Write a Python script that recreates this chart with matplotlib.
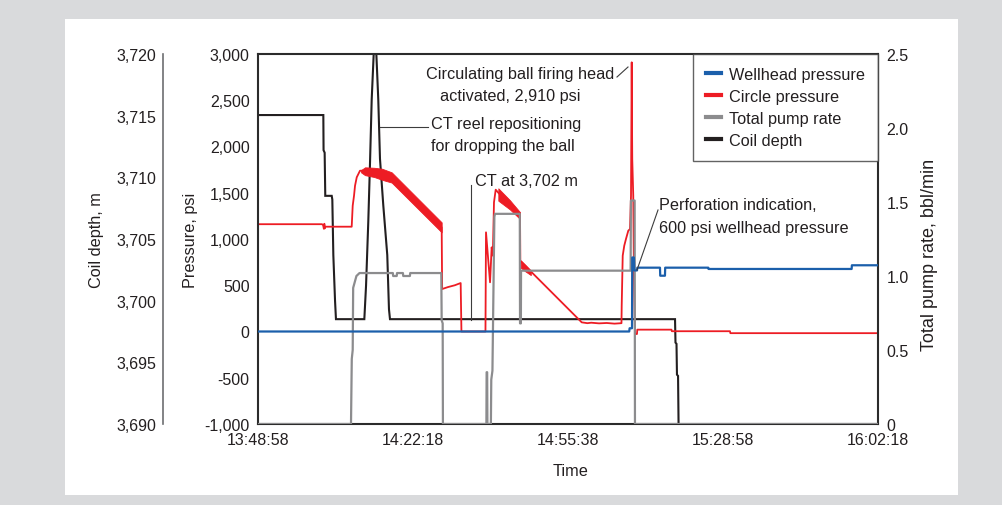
import matplotlib
matplotlib.use('Agg')
import matplotlib.pyplot as plt
from matplotlib.lines import Line2D
from matplotlib.patches import Rectangle

# ---------------- data (elapsed seconds since 13:48:58) ----------------
time_ticks = [0, 2000, 4000, 6000, 8000]
time_labels = ['13:48:58', '14:22:18', '14:55:38', '15:28:58', '16:02:18']

p_ticks = [-1000, -500, 0, 500, 1000, 1500, 2000, 2500, 3000]
p_labels = ['-1,000', '-500', '0', '500', '1,000', '1,500', '2,000', '2,500', '3,000']
d_ticks = [3690, 3695, 3700, 3705, 3710, 3715, 3720]
d_labels = ['3,690', '3,695', '3,700', '3,705', '3,710', '3,715', '3,720']
r_ticks = [0, 0.5, 1.0, 1.5, 2.0, 2.5]
r_labels = ['0', '0.5', '1.0', '1.5', '2.0', '2.5']

# Coil depth, m
depth_t = [0, 843, 846, 860, 868, 951, 959, 972, 994, 1006, 1372, 1394, 1423, 1445,
           1467, 1497, 1523, 1552, 1574, 1617, 1668, 1690, 1703, 5381, 5387, 5400,
           5406, 5420, 5430]
depth_m = [3715.05, 3715.05, 3712.2, 3712.0, 3708.5, 3708.5, 3708.2, 3703.7, 3700.0,
           3698.5, 3698.5, 3701.2, 3706.4, 3711.1, 3716.3, 3720.6, 3720.6, 3716.3,
           3711.5, 3707.7, 3703.7, 3699.3, 3698.5, 3698.5, 3696.6, 3696.5, 3694.0,
           3693.9, 3688.0]

# Circle pressure, psi
circ_t = [0, 826, 840, 850, 856, 862, 870, 1209, 1222, 1239, 1252, 1274, 1316, 1381,
          1500, 1600, 1725, 2370, 2376, 2450, 2540, 2615, 2625, 2935, 2942, 2994,
          3015, 3030, 3045, 3067, 3101, 3381, 3385, 3403, 4177, 4250, 4300, 4400,
          4500, 4600, 4690, 4693, 4706, 4726, 4748, 4778, 4800, 4813, 4818, 4822,
          4826, 4829, 4842, 4850, 4864, 4870, 4890, 4894, 5335, 5340, 6090, 6095, 8000]
circ_p = [1160, 1160, 1150, 1110, 1165, 1115, 1133, 1133, 1360, 1468, 1576, 1667, 1738,
          1740, 1720, 1700, 1665, 1126, 459, 480, 500, 524, 0, 0, 1072, 532,
          910, 820, 1397, 1533, 1500, 1250, 760, 748, 99, 90, 95, 88,
          92, 85, 90, 279, 820, 928, 1000, 1090, 1108, 1468, 2262, 2910,
          2262, 1865, 1468, 700, -9, -27, -27, 20, 20, 3, 3, -18, -18]
# thick (oscillating) parts of the circle-pressure trace
band1_t = [1330, 1381, 1500, 1600, 1725, 2370]
band1_hi = [1745, 1775, 1770, 1760, 1721, 1180]
band1_lo = [1720, 1690, 1670, 1640, 1610, 1072]
band2_t = [3101, 3250, 3381]
band2_hi = [1548, 1420, 1290]
band2_lo = [1414, 1320, 1216]
band3_t = [3390, 3450, 3520]
band3_hi = [770, 720, 660]
band3_lo = [690, 650, 610]

# Wellhead pressure, psi
well_t = [0, 4790, 4795, 4826, 4829, 4850, 4856, 4890, 4895, 5187, 5190, 5251, 5254,
          5810, 5813, 7660, 7663, 8000]
well_p = [0, 0, 35, 35, 800, 800, 660, 660, 690, 690, 603, 603, 690,
          690, 676, 676, 716, 716]

# Total pump rate, bbl/min
pump_t = [0, 1200, 1210, 1222, 1228, 1270, 1310, 1740, 1744, 1790, 1794, 1870, 1874,
          1960, 1964, 2365, 2370, 2383, 2386, 2947, 2950, 2957, 2960, 3005, 3010,
          3025, 3050, 3058, 3378, 3381, 3392, 3394, 4808, 4812, 4860, 4864, 8000]
pump_r = [0, 0, 0.44, 0.50, 0.92, 1.0, 1.02, 1.02, 1.0, 1.0, 1.02, 1.02, 1.0,
          1.0, 1.02, 1.02, 0.70, 0.68, 0, 0, 0.35, 0.35, 0, 0, 0.30,
          0.36, 1.40, 1.42, 1.42, 0.68, 0.68, 1.036, 1.036, 1.51, 1.51, 0, 0]

legend_labels = ['Wellhead pressure', 'Circle pressure', 'Total pump rate', 'Coil depth']

# ---------------- style ----------------
BLUE = '#1b5fab'
RED = '#ed1c24'
GRAY = '#8c8c8e'
BLACK = '#231f20'
TXT = '#231f20'
FS = 11.7
TFS = 11.5
plt.rcParams['font.family'] = ['Liberation Sans', 'DejaVu Sans']

W, H = 1002, 506
fig = plt.figure(figsize=(W / 100, H / 100), dpi=100)
fig.patch.set_facecolor('#d9dadc')
fig.add_artist(Rectangle((65 / W, 1 - 496 / H), (958 - 65) / W, (496 - 20) / H,
                         transform=fig.transFigure, facecolor='white',
                         edgecolor='none', zorder=0))

pos = [258 / W, 1 - 425 / H, 620 / W, 370 / H]
ax_p = fig.add_axes(pos)
ax_d = fig.add_axes(pos, sharex=ax_p)
ax_r = fig.add_axes(pos, sharex=ax_p)
ax_b = fig.add_axes(pos, sharex=ax_p, sharey=ax_p)
for z, a in zip([2, 1, 3, 4], [ax_p, ax_d, ax_r, ax_b]):
    a.set_zorder(z)
    a.patch.set_visible(False)

ax_p.set_xlim(0, 8000)
ax_p.set_ylim(-1000, 3000)
ax_d.set_ylim(3690, 3720)
ax_r.set_ylim(0, 2.5)

# coil depth (bottom layer)
ax_d.plot(depth_t, depth_m, color=BLACK, lw=1.5, solid_joinstyle='miter')
# circle pressure
ax_p.plot(circ_t, circ_p, color=RED, lw=1.3)
for bt, bh, bl in [(band1_t, band1_hi, band1_lo), (band2_t, band2_hi, band2_lo),
                   (band3_t, band3_hi, band3_lo)]:
    ax_p.fill_between(bt, bl, bh, color=RED, lw=0.6, edgecolor=RED)
# pump rate
ax_r.plot(pump_t, pump_r, color=GRAY, lw=1.6)
# wellhead pressure (top)
ax_b.plot(well_t, well_p, color=BLUE, lw=1.6)

# frame / pressure axis
for s in ax_p.spines.values():
    s.set_color('#2b2b2b')
    s.set_linewidth(1.5)
ax_p.set_yticks(p_ticks)
ax_p.set_yticklabels(p_labels)
ax_p.set_xticks(time_ticks)
ax_p.set_xticklabels(time_labels)
ax_p.tick_params(axis='y', length=0, pad=6, labelsize=TFS, labelcolor=TXT)
ax_p.tick_params(axis='x', length=0, pad=6, labelsize=TFS, labelcolor=TXT)

# coil depth axis (outer left)
for k, s in ax_d.spines.items():
    s.set_visible(k == 'left')
ax_d.spines['left'].set_position(('axes', (163 - 258) / 620))
ax_d.spines['left'].set_color('#6d6e71')
ax_d.spines['left'].set_linewidth(1.2)
ax_d.set_yticks(d_ticks)
ax_d.set_yticklabels(d_labels)
ax_d.set_yticks([3690, 3720], minor=True)
ax_d.tick_params(axis='y', which='major', length=0, pad=5, labelsize=TFS, labelcolor=TXT)
ax_d.tick_params(axis='y', which='minor', length=5, width=1.2, direction='in', color='#6d6e71')
ax_d.tick_params(axis='x', bottom=False, labelbottom=False)

# pump rate axis (right)
for s in ax_r.spines.values():
    s.set_visible(False)
ax_r.yaxis.tick_right()
ax_r.set_yticks(r_ticks)
ax_r.set_yticklabels(r_labels)
ax_r.tick_params(axis='y', length=0, pad=6, labelsize=TFS, labelcolor=TXT)
ax_r.tick_params(axis='x', bottom=False, labelbottom=False)

ax_b.axis('off')

# legend
handles = [Line2D([], [], color=c, lw=3) for c in [BLUE, RED, GRAY, BLACK]]
leg = ax_b.legend(handles, legend_labels, loc='upper right', bbox_to_anchor=(1, 1),
                  borderaxespad=0, frameon=True, fancybox=False, edgecolor='#3c3c3c',
                  fontsize=FS, handlelength=0.95, handletextpad=0.5,
                  labelspacing=0.44, borderpad=0.78, labelcolor=TXT)
leg.get_frame().set_linewidth(1.0)
leg.set_zorder(10)


def ftxt(x, y, s, ha='left', rot=0, size=FS):
    fig.text(x / W, 1 - y / H, s, ha=ha, va='center', fontsize=size, color=TXT,
             rotation=rot, zorder=20)


def lead(x1, y1, x2, y2):
    fig.add_artist(Line2D([x1 / W, x2 / W], [1 - y1 / H, 1 - y2 / H],
                          transform=fig.transFigure, color='#3c3c3c', lw=0.8, zorder=20))


# axis titles
ftxt(96, 240, 'Coil depth, m', ha='center', rot=90)
ftxt(190, 240, 'Pressure, psi', ha='center', rot=90)
ftxt(930, 255, 'Total pump rate, bbl/min', ha='center', rot=90, size=13)
ftxt(571, 472, 'Time', ha='center')

# annotations
ftxt(614, 74, 'Circulating ball firing head', ha='right')
ftxt(581, 97, 'activated, 2,910 psi', ha='right')
lead(617, 78, 628, 68)
ftxt(431, 124, 'CT reel repositioning')
ftxt(431, 146, 'for dropping the ball')
lead(380, 128, 428, 128)
ftxt(475, 182, 'CT at 3,702 m')
lead(471, 186, 471, 321)
ftxt(659, 205, 'Perforation indication,')
ftxt(659, 228, '600 psi wellhead pressure')
lead(658, 211, 637, 271)

fig.savefig('out.png', dpi=100, facecolor=fig.get_facecolor())
